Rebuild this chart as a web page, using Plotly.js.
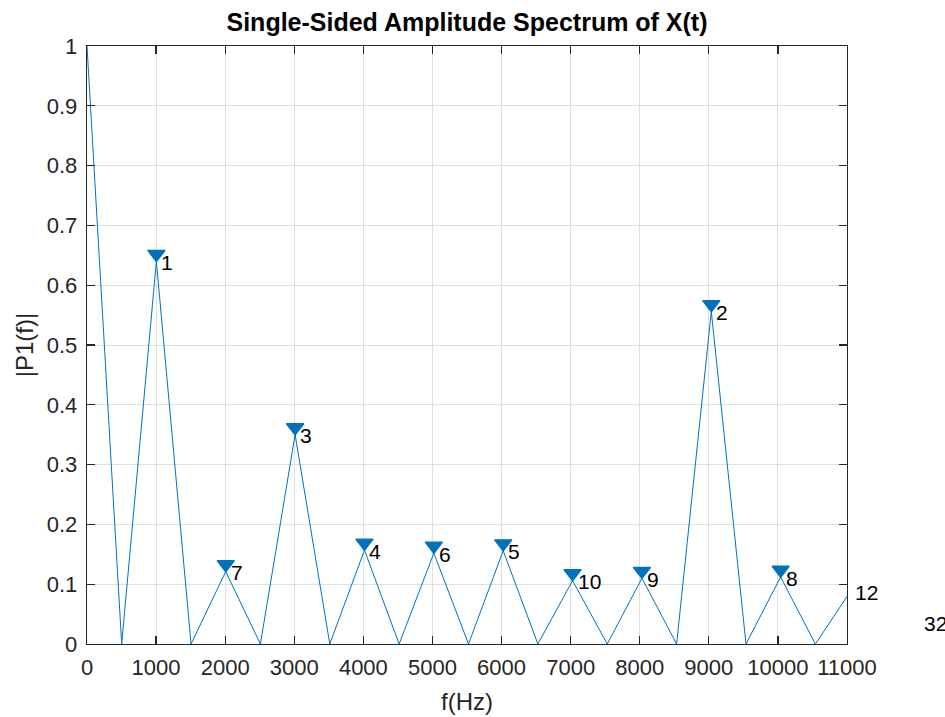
<!DOCTYPE html>
<html>
<head>
<meta charset="utf-8">
<script src="https://cdn.plot.ly/plotly-3.0.1.min.js"></script>
<style>html,body{margin:0;padding:0;background:#fff;}#chart{width:945px;height:717px;}</style>
</head>
<body>
<div id="chart"></div>
<script>
// Spectrum samples (Hz) and amplitudes
var freqHz = [0, 502, 1004, 1506, 2008, 2510, 3012, 3514, 4016, 4518, 5020, 5522, 6024, 6526, 7028, 7530, 8032, 8534, 9036, 9538, 10040, 10542, 11044, 11546, 12048];
var amplitude = [1.0, 0, 0.640, 0, 0.121, 0, 0.350, 0, 0.157, 0, 0.152, 0, 0.156, 0, 0.106, 0, 0.110, 0, 0.556, 0, 0.112, 0, 0.087, 0, 0.036];

// Labelled peaks (rank labels)
var peakFreq = [1004, 9036, 3012, 4016, 6024, 5020, 2008, 10040, 8032, 7028, 11044, 12048];
var peakLabel = ["1", "2", "3", "4", "5", "6", "7", "8", "9", "10", "12", "32"];

var xTicks = [0, 1000, 2000, 3000, 4000, 5000, 6000, 7000, 8000, 9000, 10000, 11000];
var yTicks = [0, 0.1, 0.2, 0.3, 0.4, 0.5, 0.6, 0.7, 0.8, 0.9, 1];
var yTickText = ["0", "0.1", "0.2", "0.3", "0.4", "0.5", "0.6", "0.7", "0.8", "0.9", "1"];

var xRange = [0, 11000];
var yRange = [0, 1];

var peakAmp = peakFreq.map(function (f) { return amplitude[freqHz.indexOf(f)]; });

// markers drawn only where the peak lies inside the axes
var mX = [], mY = [];
var markerLift = 0.012;
peakFreq.forEach(function (f, i) {
  if (f >= xRange[0] && f <= xRange[1]) { mX.push(f); mY.push(peakAmp[i] + markerLift); }
});

var blue = '#0072BD';
var font = 'Liberation Sans, Arial, sans-serif';

var traces = [
  { x: freqHz, y: amplitude, type: 'scatter', mode: 'lines',
    line: { color: blue, width: 1 }, hoverinfo: 'skip', cliponaxis: true },
  { x: mX, y: mY, type: 'scatter', mode: 'markers',
    marker: { symbol: 'triangle-down', size: 15, color: blue, line: { width: 1.3, color: blue } },
    cliponaxis: true, hoverinfo: 'skip' }
];

// peak labels as annotations (they may fall outside the axes, like the reference)
var annotations = peakFreq.map(function (f, i) {
  return {
    xref: 'paper', yref: 'y',
    x: (f - xRange[0]) / (xRange[1] - xRange[0]), y: peakAmp[i],
    text: peakLabel[i], showarrow: false,
    xanchor: 'left', yanchor: 'middle', xshift: 3, yshift: -1,
    font: { family: font, size: 21, color: '#000000' }
  };
});

var axisCommon = {
  showline: true, mirror: 'ticks', linecolor: '#262626', linewidth: 1.3,
  ticks: 'inside', ticklen: 8, tickwidth: 1.3, tickcolor: '#262626',
  showgrid: true, gridcolor: '#dfdfdf', gridwidth: 1, zeroline: false,
  tickfont: { family: font, size: 22, color: '#262626' }
};

var layout = {
  width: 945, height: 717,
  margin: { l: 87, r: 98, t: 46, b: 73 },
  paper_bgcolor: '#ffffff', plot_bgcolor: '#ffffff',
  showlegend: false,
  title: { text: '<b>Single-Sided Amplitude Spectrum of X(t)</b>',
    font: { family: font, size: 25, color: '#000000' },
    x: 0.5, xref: 'paper', y: 0.969, yanchor: 'middle' },
  xaxis: Object.assign({}, axisCommon, {
    range: xRange, tickvals: xTicks, ticktext: xTicks.map(String), ticklabelstandoff: 3,
    title: { text: 'f(Hz)', font: { family: font, size: 24, color: '#262626' }, standoff: 14 }
  }),
  yaxis: Object.assign({}, axisCommon, {
    range: yRange, tickvals: yTicks, ticktext: yTickText, ticklabelstandoff: 4,
    title: { text: '|P1(f)|', font: { family: font, size: 24, color: '#262626' }, standoff: 6 }
  }),
  annotations: annotations
};

Plotly.newPlot('chart', traces, layout, { displayModeBar: false, staticPlot: true });
</script>
</body>
</html>
